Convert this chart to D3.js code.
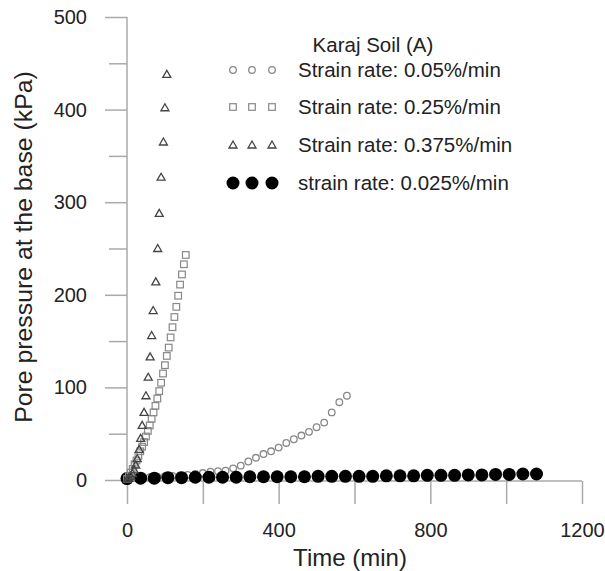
<!DOCTYPE html>
<html>
<head>
<meta charset="utf-8">
<script src="https://cdn.jsdelivr.net/npm/d3@7"></script>
<style>
body { margin: 0; background: #fff; }
text { font-family: "Liberation Sans", Arial, sans-serif; fill: #222; }
</style>
</head>
<body>
<div id="chart"></div>
<script>
// strain rate 0.05%/min (open circles)
const circT = [0,20,40,60,80,100,120,140,160,180,200,220,240,260,280,300,320,340,360,380,400,420,440,460,480,500,520,540,560,580];
const circP = [1,2,2.5,3,3.5,4,4.5,5,5.5,6.5,7.5,9,9.5,10,12.6,15.5,20,24,28,31,35,40,44,48,52,57,62,73,84,91];
// strain rate 0.25%/min (squares)
const sqT = [0,5,10,15,20,25,30,35,40,45,50,55,60,65,70,75,80,85,90,95,100,105,110,115,120,125,130,135,140,145,150,155];
const sqP = [1,4,8,12,17,21,26,31,36,41,47,53,59,66,73,80,88,96,105,115,124,134,143,154,165,176,187,199,211,222,233,243];
// strain rate 0.375%/min (triangles)
const triT = [1,5,10,14,19,23,27,32,36,40,45,50,56,61,65,69,76,81,85,90,96,100,105];
const triP = [1,2,4,7,11,16,23,33,45,59,73,91,111,133,156,183,214,250,288,327,365,402,438];
// strain rate 0.025%/min (filled circles)
const fillT = [0,36,72,108,144,180,216,252,288,324,360,396,432,468,504,540,576,612,648,684,720,756,792,828,864,900,936,972,1008,1044,1080];
const fillP = [1.5,2,2,2.5,2.5,3,3,3,3,3.5,3.5,3.5,3.5,3.5,4,4,4,4,4,4.5,4.5,4.5,5,5,5,5.5,5.5,6,6,6.5,6.5];

const legendTitle = "Karaj Soil (A)";
const legendLabels = ["Strain rate: 0.05%/min", "Strain rate: 0.25%/min", "Strain rate: 0.375%/min", "strain rate: 0.025%/min"];
const xTicks = [0,200,400,600,800,1000,1200];
const yTicks = [0,50,100,150,200,250,300,350,400,450,500];

const W = 605, H = 571;
const svg = d3.select('#chart').append('svg').attr('width', W).attr('height', H);

const x = d3.scaleLinear().domain([0, 1200]).range([127, 582]);
const y = d3.scaleLinear().domain([0, 500]).range([480, 17]);

// axes
const xAxis = svg.append('g').attr('transform', 'translate(0,481)')
  .call(d3.axisBottom(x).tickValues(xTicks).tickSize(23).tickPadding(19)
    .tickFormat(d => d % 400 === 0 ? d : ''));
const yAxis = svg.append('g').attr('transform', 'translate(127,0)')
  .call(d3.axisLeft(y).tickValues(yTicks).tickSize(22).tickPadding(18)
    .tickFormat(d => d % 100 === 0 ? d : ''));
yAxis.selectAll('.tick line').attr('x2', d => d % 100 === 0 ? -22 : -18);
[xAxis, yAxis].forEach(a => {
  a.select('.domain').attr('stroke', '#aaa').attr('stroke-width', 1.5);
  a.selectAll('.tick line').attr('stroke', '#aaa').attr('stroke-width', 1.5);
  a.selectAll('text').attr('font-size', 20).attr('fill', '#222')
    .style('font-family', '"Liberation Sans", Arial, sans-serif');
});
yAxis.select('.domain').attr('d', 'M0,' + y(500) + 'V' + y(0));
xAxis.select('.domain').attr('d', 'M' + x(0) + ',0H' + x(1200));

// axis titles
svg.append('text').attr('x', 350).attr('y', 566).attr('text-anchor', 'middle')
  .attr('font-size', 24).text('Time (min)');
svg.append('text').attr('transform', 'translate(32,247) rotate(-90)').attr('text-anchor', 'middle')
  .attr('font-size', 24.8).text('Pore pressure at the base (kPa)');

const zip = (a, b) => a.map((v, i) => [v, b[i]]);
const triPath = 'M0,-4L4,3L-4,3Z';

// open circles
svg.append('g').selectAll('circle').data(zip(circT, circP)).join('circle')
  .attr('cx', d => x(d[0])).attr('cy', d => y(d[1])).attr('r', 3.3)
  .attr('fill', 'none').attr('stroke', '#888').attr('stroke-width', 1.3);
// filled circles
svg.append('g').selectAll('circle').data(zip(fillT, fillP)).join('circle')
  .attr('cx', d => x(d[0])).attr('cy', d => y(d[1])).attr('r', 6.5)
  .attr('fill', '#000');
// squares
svg.append('g').selectAll('rect').data(zip(sqT, sqP)).join('rect')
  .attr('x', d => x(d[0]) - 3.3).attr('y', d => y(d[1]) - 3.3)
  .attr('width', 6.6).attr('height', 6.6)
  .attr('fill', 'none').attr('stroke', '#888').attr('stroke-width', 1.2);
// triangles
svg.append('g').selectAll('path').data(zip(triT, triP)).join('path')
  .attr('transform', d => `translate(${x(d[0])},${y(d[1])})`).attr('d', triPath)
  .attr('fill', 'none').attr('stroke', '#444').attr('stroke-width', 1.3);

// legend
const lg = svg.append('g');
lg.append('text').attr('x', 373).attr('y', 45).attr('dy', '0.35em')
  .attr('text-anchor', 'middle').attr('font-size', 20.5).text(legendTitle);
const rowY = [70, 107, 145, 183];
const symX = [233, 252, 272];
legendLabels.forEach((lab, i) => {
  lg.append('text').attr('x', 298).attr('y', rowY[i]).attr('dy', '0.35em')
    .attr('font-size', 20.5).text(lab);
  symX.forEach(sx => {
    if (i === 0) {
      lg.append('circle').attr('cx', sx).attr('cy', rowY[i]).attr('r', 3.3)
        .attr('fill', 'none').attr('stroke', '#888').attr('stroke-width', 1.3);
    } else if (i === 1) {
      lg.append('rect').attr('x', sx - 3.3).attr('y', rowY[i] - 3.3).attr('width', 6.6).attr('height', 6.6)
        .attr('fill', 'none').attr('stroke', '#888').attr('stroke-width', 1.2);
    } else if (i === 2) {
      lg.append('path').attr('transform', `translate(${sx},${rowY[i]})`).attr('d', triPath)
        .attr('fill', 'none').attr('stroke', '#444').attr('stroke-width', 1.3);
    } else {
      lg.append('circle').attr('cx', sx).attr('cy', rowY[i]).attr('r', 6.5).attr('fill', '#000');
    }
  });
});
</script>
</body>
</html>
